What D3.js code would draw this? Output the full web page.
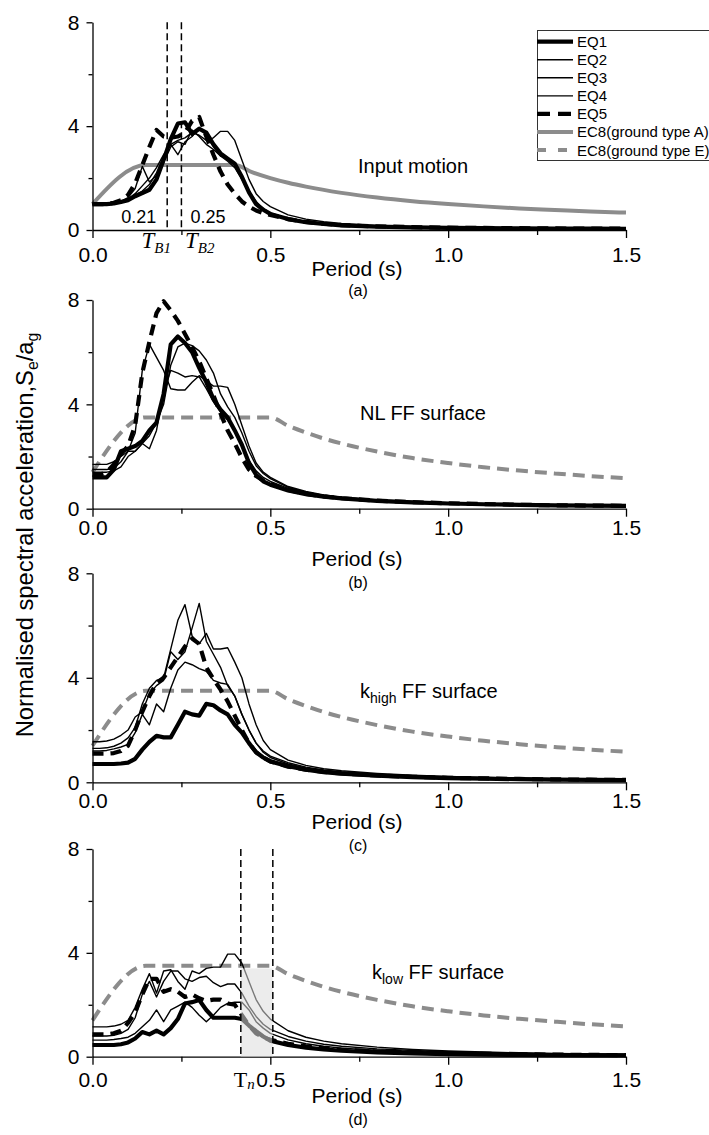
<!DOCTYPE html>
<html lang="en">
<head>
  <meta charset="UTF-8">
  <title>Normalised spectral acceleration</title>
  <script src="https://d3js.org/d3.v7.min.js"></script>
  <style>
    body { margin: 0; background: #fff; }
    svg text { font-family: 'Liberation Sans', Arial, sans-serif; fill: #000; }
    .serif { font-family: 'Liberation Serif', 'DejaVu Serif', serif; }
    .axis path, .axis line { stroke: #000; stroke-width: 1.3; }
  </style>
</head>
<body>
<script>
  // periods shared by all EQ spectra (s)
  var periods = [0, 0.02, 0.04, 0.06, 0.08, 0.10, 0.12, 0.14, 0.16, 0.18,
                 0.20, 0.22, 0.24, 0.26, 0.28, 0.30, 0.32, 0.34, 0.36, 0.38,
                 0.40, 0.42, 0.44, 0.46, 0.48, 0.50, 0.55, 0.60, 0.65, 0.70,
                 0.80, 0.90, 1.00, 1.10, 1.20, 1.30, 1.40, 1.50];

  // (a) input motion
  var inputEQ1 = [1.00,1.00,1.00,1.02,1.08,1.15,1.30,1.42,1.55,1.95, 2.70,3.50,4.10,4.15,3.70,3.90,3.75,3.30,2.95,2.75, 2.55,2.05,1.45,1.00,0.78,0.62, 0.42,0.30,0.23,0.18,0.13,0.10, 0.08,0.07,0.06,0.05,0.05,0.04];
  var inputEQ2 = [1.00,1.00,1.00,1.03,1.10,1.20,1.40,1.70,2.00,2.40, 2.90,3.30,3.45,3.55,3.75,3.65,3.45,3.55,3.80,3.80, 3.45,2.70,1.95,1.40,1.10,0.90, 0.58,0.42,0.32,0.25,0.17,0.13, 0.10,0.09,0.08,0.07,0.06,0.05];
  var inputEQ3 = [1.00,1.00,1.00,1.05,1.10,1.25,1.60,2.45,1.85,2.10, 2.60,3.20,3.40,3.30,3.85,3.60,3.30,3.10,2.85,2.65, 2.40,1.95,1.45,1.05,0.82,0.65, 0.45,0.33,0.25,0.20,0.14,0.11, 0.09,0.08,0.07,0.06,0.05,0.05];
  var inputEQ4 = [1.00,1.00,1.00,1.04,1.10,1.20,1.35,1.50,1.75,2.20, 2.85,3.30,2.90,3.40,3.60,3.95,3.65,3.20,2.85,2.75, 2.50,2.00,1.50,1.10,0.82,0.66, 0.44,0.32,0.24,0.19,0.14,0.11, 0.09,0.08,0.07,0.06,0.05,0.05];
  var inputEQ5 = [1.00,1.00,1.00,1.05,1.15,1.35,1.80,2.50,3.20,3.85, 3.60,3.55,3.60,3.75,4.20,4.35,3.60,2.90,2.25,1.75, 1.40,1.10,0.90,0.75,0.65,0.58, 0.42,0.31,0.24,0.19,0.14,0.11, 0.09,0.08,0.07,0.06,0.05,0.05];

  // (b) NL FF surface
  var nlEQ1 = [1.20,1.20,1.20,1.50,2.20,2.30,2.40,2.60,3.00,3.30, 4.40,6.30,6.60,6.35,6.00,5.40,4.85,4.20,3.80,3.50, 3.00,2.45,1.75,1.30,1.05,0.92, 0.70,0.56,0.46,0.39,0.30,0.24, 0.20,0.17,0.15,0.13,0.12,0.11];
  var nlEQ2 = [1.70,1.70,1.70,1.80,2.00,2.20,2.90,5.30,6.30,5.80, 5.30,4.60,4.55,4.55,4.85,5.10,4.90,4.70,4.70,4.65, 4.00,3.20,2.40,1.75,1.40,1.20, 0.85,0.66,0.53,0.45,0.34,0.28, 0.23,0.19,0.16,0.14,0.13,0.12];
  var nlEQ3 = [1.50,1.50,1.50,1.55,1.80,2.20,2.20,2.50,2.80,3.30, 4.00,5.50,6.20,6.35,6.25,6.05,5.70,5.20,4.40,3.90, 3.50,2.90,2.20,1.65,1.35,1.15, 0.82,0.63,0.51,0.43,0.33,0.27, 0.22,0.18,0.16,0.14,0.12,0.11];
  var nlEQ4 = [1.40,1.40,1.40,1.45,1.60,2.00,2.20,2.50,2.30,3.00, 4.50,5.30,5.20,5.05,5.10,5.05,4.60,4.10,3.70,3.40, 3.00,2.50,1.85,1.45,1.20,1.05, 0.78,0.60,0.49,0.41,0.32,0.26, 0.21,0.18,0.15,0.13,0.12,0.11];
  var nlEQ5 = [1.30,1.30,1.40,1.70,2.10,2.40,3.20,5.20,6.40,7.50, 7.95,7.60,7.20,6.70,6.20,5.65,5.00,4.35,3.65,3.00, 2.50,1.95,1.50,1.25,1.08,0.95, 0.72,0.57,0.47,0.40,0.31,0.25, 0.21,0.18,0.15,0.13,0.12,0.11];

  // (c) k_high FF surface
  var hiEQ1 = [0.70,0.70,0.70,0.70,0.72,0.75,0.90,1.25,1.55,1.78, 1.72,1.72,2.20,2.70,2.60,2.55,3.00,2.95,2.75,2.60, 2.20,1.90,1.50,1.15,0.95,0.80, 0.62,0.48,0.39,0.33,0.25,0.20, 0.16,0.14,0.12,0.10,0.09,0.08];
  var hiEQ2 = [1.30,1.30,1.32,1.38,1.50,1.70,2.10,3.00,3.60,3.90, 4.00,5.10,6.20,6.80,5.60,5.30,5.70,5.10,5.10,5.15, 4.60,4.00,3.00,2.20,1.60,1.25, 0.85,0.65,0.52,0.44,0.34,0.27, 0.22,0.19,0.16,0.14,0.12,0.11];
  var hiEQ3 = [1.55,1.55,1.58,1.65,1.80,2.00,2.50,2.70,3.40,3.70, 3.90,5.00,4.70,5.00,5.90,6.85,5.40,4.90,4.40,3.70, 3.30,2.60,2.00,1.50,1.20,1.00, 0.75,0.58,0.47,0.40,0.31,0.25, 0.20,0.17,0.15,0.13,0.11,0.10];
  var hiEQ4 = [1.20,1.20,1.22,1.28,1.35,1.45,1.90,2.60,2.20,3.00, 2.70,3.60,4.30,4.60,4.50,4.35,4.25,3.90,3.80,3.75, 3.30,2.60,2.00,1.50,1.15,0.95, 0.70,0.55,0.45,0.38,0.29,0.23, 0.19,0.16,0.14,0.12,0.11,0.10];
  var hiEQ5 = [1.10,1.10,1.10,1.12,1.20,1.40,2.00,2.70,3.30,3.80, 4.00,4.40,4.80,5.20,5.50,5.30,4.40,3.95,3.55,3.10, 2.55,2.00,1.50,1.15,0.95,0.80, 0.60,0.48,0.40,0.34,0.26,0.21, 0.17,0.15,0.13,0.11,0.10,0.09];

  // (d) k_low FF surface
  var loEQ1 = [0.45,0.45,0.45,0.45,0.48,0.55,0.70,0.95,0.86,1.00, 0.86,1.10,1.45,2.05,2.10,2.18,1.80,1.50,1.50,1.50, 1.50,1.45,1.20,0.98,0.78,0.62, 0.45,0.35,0.28,0.23,0.17,0.13, 0.10,0.08,0.07,0.06,0.05,0.05];
  var loEQ2 = [1.15,1.15,1.15,1.18,1.25,1.40,1.90,2.60,3.20,2.45, 3.30,3.35,2.90,2.60,3.30,3.20,3.40,3.45,3.45,3.95, 3.95,3.60,2.90,2.20,1.75,1.45, 1.00,0.75,0.60,0.50,0.37,0.28, 0.22,0.18,0.15,0.13,0.11,0.10];
  var loEQ3 = [0.80,0.80,0.80,0.82,0.90,1.05,1.50,2.40,2.90,2.30, 2.90,3.30,3.30,3.00,2.90,3.05,3.10,2.85,2.70,2.80, 2.80,2.45,1.95,1.55,1.25,1.05, 0.78,0.60,0.48,0.40,0.30,0.24, 0.19,0.16,0.13,0.11,0.10,0.09];
  var loEQ4 = [0.64,0.64,0.64,0.66,0.70,0.75,0.90,1.15,1.40,1.80, 1.35,1.80,1.95,2.10,1.90,1.60,1.35,1.60,1.90,2.05, 2.10,2.10,1.80,1.35,1.10,0.90, 0.65,0.50,0.40,0.33,0.25,0.20, 0.16,0.13,0.11,0.10,0.09,0.08];
  var loEQ5 = [0.86,0.86,0.86,0.90,1.00,1.30,1.70,2.40,3.00,3.00, 2.50,2.60,2.50,2.30,2.40,2.25,2.15,2.20,2.20,2.05, 2.00,1.60,1.20,0.90,0.75,0.65, 0.50,0.40,0.32,0.27,0.20,0.16, 0.13,0.11,0.09,0.08,0.07,0.06];

  // EC8 design spectra
  var ec8APeriods = [0, 0.15, 0.40, 0.45, 0.50, 0.55, 0.60, 0.70, 0.80, 0.90, 1.00, 1.10, 1.20, 1.30, 1.40, 1.50];
  var ec8AValues  = [1.00, 2.50, 2.50, 2.22, 2.00, 1.82, 1.67, 1.43, 1.25, 1.11, 1.00, 0.91, 0.83, 0.77, 0.71, 0.67];
  var ec8EPeriods = [0, 0.15, 0.50, 0.55, 0.60, 0.65, 0.70, 0.80, 0.90, 1.00, 1.10, 1.20, 1.30, 1.40, 1.50];
  var ec8EValues  = [1.40, 3.50, 3.50, 3.18, 2.92, 2.69, 2.50, 2.19, 1.94, 1.75, 1.59, 1.46, 1.35, 1.25, 1.17];

  var legendNames = ['EQ1', 'EQ2', 'EQ3', 'EQ4', 'EQ5', 'EC8(ground type A)', 'EC8(ground type E)'];
  var xMajorTicks = [0, 0.5, 1.0, 1.5];
  var xMinorTicks = [0.25, 0.75, 1.25];
  var yMajorTicks = [0, 4, 8];
  var yMinorTicks = [2, 6];
  var tbLines = [0.21, 0.25];
  var tnLines = [0.417, 0.507];
  var tnShadeTop = 3.4;

  var width = 709, height = 1135;
  var svg = d3.select('body').append('svg')
    .attr('width', width)
    .attr('height', height);

  var grey = '#8c8c8c';
  var eqWidth = [4.2, 1.4, 1.4, 1.4, 4.2];
  var eqDash = [null, null, null, null, '11,7'];
  var drawOrder = [1, 2, 3, 0, 4];

  var x = d3.scaleLinear().domain([0, 1.5]).range([92.5, 626]);

  var panels = [
    { series: [inputEQ1, inputEQ2, inputEQ3, inputEQ4, inputEQ5], code: 'A', bottom: 230, top: 22.3,
      tickPad: 9, periodY: 276, letterY: 296, letter: '(a)' },
    { series: [nlEQ1, nlEQ2, nlEQ3, nlEQ4, nlEQ5], code: 'E', bottom: 508.7, top: 300,
      tickPad: 3, periodY: 566, letterY: 588, letter: '(b)' },
    { series: [hiEQ1, hiEQ2, hiEQ3, hiEQ4, hiEQ5], code: 'E', bottom: 782.3, top: 573.3,
      tickPad: 3, periodY: 829, letterY: 851, letter: '(c)' },
    { series: [loEQ1, loEQ2, loEQ3, loEQ4, loEQ5], code: 'E', bottom: 1056.7, top: 849,
      tickPad: 7, periodY: 1103, letterY: 1125, letter: '(d)' }
  ];

  panels.forEach(function (p) {
    var y = d3.scaleLinear().domain([0, 8]).range([p.bottom, p.top]);
    p.y = y;
    var g = svg.append('g');

    // EC8 spectrum
    var ecT = p.code === 'A' ? ec8APeriods : ec8EPeriods;
    var ecV = p.code === 'A' ? ec8AValues : ec8EValues;
    g.append('path')
      .datum(ecV)
      .attr('fill', 'none')
      .attr('stroke', grey)
      .attr('stroke-width', 4)
      .attr('stroke-dasharray', p.code === 'A' ? null : '12,7')
      .attr('d', d3.line()
        .x(function (d, i) { return x(ecT[i]); })
        .y(function (d) { return y(d); })
        .curve(d3.curveMonotoneX));

    // EQ spectra
    drawOrder.forEach(function (k) {
      g.append('path')
        .datum(p.series[k])
        .attr('fill', 'none')
        .attr('stroke', '#000')
        .attr('stroke-width', eqWidth[k])
        .attr('stroke-linejoin', 'round')
        .attr('stroke-dasharray', eqDash[k])
        .attr('d', d3.line()
          .x(function (d, i) { return x(periods[i]); })
          .y(function (d) { return y(d); }));
    });

    // axes
    var xAxis = g.append('g').attr('class', 'axis')
      .attr('transform', 'translate(0,' + p.bottom + ')')
      .call(d3.axisBottom(x).tickValues(xMajorTicks).tickFormat(d3.format('.1f'))
        .tickSize(8).tickSizeOuter(0).tickPadding(p.tickPad));
    xAxis.selectAll('text').style('font-size', '21px');
    g.append('g').attr('class', 'axis')
      .attr('transform', 'translate(0,' + p.bottom + ')')
      .call(d3.axisBottom(x).tickValues(xMinorTicks).tickFormat('').tickSize(5).tickSizeOuter(0))
      .select('.domain').remove();

    var yAxis = g.append('g').attr('class', 'axis')
      .attr('transform', 'translate(' + x(0) + ',0)')
      .call(d3.axisLeft(y).tickValues(yMajorTicks).tickSize(6).tickSizeOuter(0).tickPadding(7));
    yAxis.selectAll('text').style('font-size', '21px');
    g.append('g').attr('class', 'axis')
      .attr('transform', 'translate(' + x(0) + ',0)')
      .call(d3.axisLeft(y).tickValues(yMinorTicks).tickFormat('').tickSize(4).tickSizeOuter(0))
      .select('.domain').remove();

    g.append('text')
      .attr('x', 357).attr('y', p.periodY)
      .attr('text-anchor', 'middle')
      .style('font-size', '21px')
      .text('Period (s)');
    g.append('text')
      .attr('x', 358).attr('y', p.letterY)
      .attr('text-anchor', 'middle')
      .style('font-size', '16px')
      .text(p.letter);
  });

  // panel (a) extras: corner periods T_B
  var pa = panels[0];
  tbLines.forEach(function (t) {
    svg.append('line')
      .attr('x1', x(t)).attr('x2', x(t))
      .attr('y1', pa.y(8)).attr('y2', pa.y(0))
      .attr('stroke', '#000').attr('stroke-width', 1.5)
      .attr('stroke-dasharray', '7,4');
  });
  svg.append('text').attr('x', x(tbLines[0]) - 11).attr('y', 223)
    .attr('text-anchor', 'end').style('font-size', '18px').text('0.21');
  svg.append('text').attr('x', x(tbLines[1]) + 9).attr('y', 223)
    .style('font-size', '18px').text('0.25');
  [['T', 'B1', 141.5], ['T', 'B2', 185]].forEach(function (lab) {
    var t = svg.append('text').attr('class', 'serif')
      .attr('x', lab[2]).attr('y', 248)
      .style('font-size', '23px').style('font-style', 'italic');
    t.append('tspan').text(lab[0]);
    t.append('tspan').attr('dy', 5).style('font-size', '15px').text(lab[1]);
  });
  svg.append('text').attr('x', 358).attr('y', 172.5).style('font-size', '20px').text('Input motion');

  // panel (b), (c) labels
  svg.append('text').attr('x', 360).attr('y', 420).style('font-size', '20px').text('NL FF surface');
  var kh = svg.append('text').attr('x', 360).attr('y', 698).style('font-size', '20px');
  kh.append('tspan').text('k');
  kh.append('tspan').attr('dy', 5).style('font-size', '14px').text('high');
  kh.append('tspan').attr('dy', -5).text(' FF surface');

  // panel (d) extras: T_n band
  var pd = panels[3];
  svg.append('rect')
    .attr('x', x(tnLines[0])).attr('width', x(tnLines[1]) - x(tnLines[0]))
    .attr('y', pd.y(tnShadeTop)).attr('height', pd.y(0) - pd.y(tnShadeTop))
    .attr('fill', '#dcdcdc').attr('fill-opacity', 0.55);
  tnLines.forEach(function (t) {
    svg.append('line')
      .attr('x1', x(t)).attr('x2', x(t))
      .attr('y1', pd.y(8)).attr('y2', pd.y(0))
      .attr('stroke', '#000').attr('stroke-width', 1.5)
      .attr('stroke-dasharray', '7,4');
  });
  var tn = svg.append('text').attr('class', 'serif').attr('x', x(tnLines[0]) - 7).attr('y', 1087)
    .style('font-size', '22px');
  tn.append('tspan').text('T');
  tn.append('tspan').attr('dy', 2).style('font-size', '15px').style('font-style', 'italic').text('n');
  var kl = svg.append('text').attr('x', 372).attr('y', 979).style('font-size', '20px');
  kl.append('tspan').text('k');
  kl.append('tspan').attr('dy', 5).style('font-size', '14px').text('low');
  kl.append('tspan').attr('dy', -5).text(' FF surface');

  // y label, squeezed to the length it has in the figure
  var yl = svg.append('text')
    .attr('text-anchor', 'middle')
    .style('font-size', '24px');
  yl.append('tspan').text('Normalised spectral acceleration,S');
  yl.append('tspan').attr('dy', 5).style('font-size', '16px').text('e');
  yl.append('tspan').attr('dy', -5).text('/a');
  yl.append('tspan').attr('dy', 5).style('font-size', '16px').text('g');
  var natural = yl.node().getComputedTextLength();
  yl.attr('transform', 'translate(33,535) rotate(-90) scale(' + (405 / natural) + ',1)');

  // legend
  var lg = svg.append('g');
  lg.append('rect')
    .attr('x', 537.5).attr('y', 30.5).attr('width', 180).attr('height', 130)
    .attr('fill', '#fff').attr('stroke', '#333').attr('stroke-width', 1);
  var legWidth = [4.2, 1.4, 1.4, 1.4, 4.2, 4, 4];
  var legColor = ['#000', '#000', '#000', '#000', '#000', grey, grey];
  var legDash = [null, null, null, null, '13,8', null, '9,12'];
  legendNames.forEach(function (name, i) {
    var cy = 41.7 + i * 18.05;
    lg.append('line')
      .attr('x1', 537).attr('x2', 573).attr('y1', cy).attr('y2', cy)
      .attr('stroke', legColor[i]).attr('stroke-width', legWidth[i])
      .attr('stroke-dasharray', legDash[i]);
    lg.append('text').attr('x', 577).attr('y', cy + 5.5)
      .style('font-size', '15px').text(name);
  });
</script>
</body>
</html>
